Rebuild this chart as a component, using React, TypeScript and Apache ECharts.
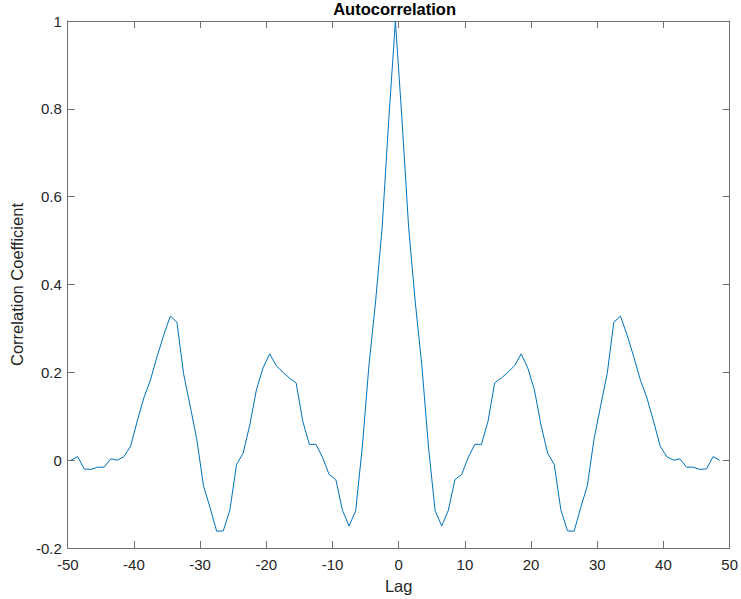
import React, { useEffect, useRef } from "react";
import * as echarts from "echarts";

// Lags run from -49.5 in steps of 1 (99 samples)
const firstLag = -49.5;
const lagStep = 1;

// Autocorrelation values, lag -49.5 .. -0.5
const corrLeft = [
  0.0, 0.008, -0.02, -0.021, -0.016, -0.016, 0.003, 0.0, 0.008, 0.032,
  0.089, 0.142, 0.183, 0.236, 0.285, 0.328, 0.314, 0.197, 0.123, 0.047,
  -0.058, -0.108, -0.162, -0.161, -0.113, -0.01, 0.016, 0.08, 0.16, 0.21,
  0.242, 0.215, 0.2, 0.187, 0.176, 0.089, 0.036, 0.036, 0.006, -0.033,
  -0.044, -0.114, -0.15, -0.115, 0.03, 0.215, 0.36, 0.53, 0.775, 1.0,
];

// Autocorrelation values, lag 0.5 .. 48.5
const corrRight = [
  0.775, 0.53, 0.36, 0.215, 0.03, -0.115, -0.15, -0.114, -0.044, -0.033,
  0.006, 0.036, 0.036, 0.089, 0.176, 0.187, 0.2, 0.215, 0.242, 0.21,
  0.16, 0.08, 0.016, -0.01, -0.113, -0.161, -0.162, -0.108, -0.058, 0.047,
  0.123, 0.197, 0.314, 0.328, 0.285, 0.236, 0.183, 0.142, 0.089, 0.032,
  0.008, 0.0, 0.003, -0.016, -0.016, -0.021, -0.02, 0.008, 0.0,
];

const xRange = { min: -50, max: 50, interval: 10 };
const yRange = { min: -0.2, max: 1, interval: 0.2 };

const titleText = "Autocorrelation";
const xLabel = "Lag";
const yLabel = "Correlation Coefficient";

const FONT = '"Liberation Sans", Arial, Helvetica, sans-serif';

export default function App() {
  const ref = useRef<HTMLDivElement>(null);

  useEffect(() => {
    if (!ref.current) return;
    const chart = echarts.init(ref.current, undefined, { renderer: "svg" });
    const values = [...corrLeft, ...corrRight];
    const data = values.map((v, i) => [firstLag + i * lagStep, v]);

    const axisLine = { show: true, onZero: false, lineStyle: { color: "#707070", width: 1 } };
    const axisTick = { show: true, inside: true, length: 7, lineStyle: { color: "#707070", width: 1 } };
    const labelStyle = { color: "#262626", fontSize: 15, fontFamily: FONT };

    chart.setOption({
      animation: false,
      backgroundColor: "#ffffff",
      title: {
        text: titleText,
        left: 394.6,
        top: 0,
        padding: 0,
        textAlign: "center",
        textStyle: { fontSize: 16.5, fontWeight: "bold", color: "#000", fontFamily: FONT },
      },
      grid: { left: 57, right: 9, top: 21, bottom: 48, containLabel: false },
      xAxis: [
        {
          type: "value",
          min: xRange.min,
          max: xRange.max,
          interval: xRange.interval,
          position: "bottom",
          axisLine,
          axisTick,
          splitLine: { show: false },
          axisLabel: { ...labelStyle, margin: 9 },
          name: xLabel,
          nameLocation: "middle",
          nameGap: 29,
          nameTextStyle: { color: "#262626", fontSize: 16.5, fontFamily: FONT },
        },
        {
          type: "value",
          min: xRange.min,
          max: xRange.max,
          interval: xRange.interval,
          position: "top",
          axisLine,
          axisTick,
          splitLine: { show: false },
          axisLabel: { show: false },
        },
      ],
      yAxis: [
        {
          type: "value",
          min: yRange.min,
          max: yRange.max,
          interval: yRange.interval,
          position: "left",
          axisLine,
          axisTick,
          splitLine: { show: false },
          axisLabel: { ...labelStyle, margin: 6 },
          name: yLabel,
          nameLocation: "middle",
          nameGap: 42,
          nameTextStyle: { color: "#262626", fontSize: 16.5, fontFamily: FONT },
        },
        {
          type: "value",
          min: yRange.min,
          max: yRange.max,
          interval: yRange.interval,
          position: "right",
          axisLine,
          axisTick,
          splitLine: { show: false },
          axisLabel: { show: false },
        },
      ],
      series: [
        {
          type: "line",
          data,
          xAxisIndex: 0,
          yAxisIndex: 0,
          showSymbol: false,
          symbol: "none",
          lineStyle: { color: "#0072BD", width: 1 },
          itemStyle: { color: "#0072BD" },
        },
      ],
    });

    return () => chart.dispose();
  }, []);

  return (
    <div
      ref={ref}
      style={{ position: "fixed", left: 0, top: 0, width: 741, height: 599, background: "#fff" }}
    />
  );
}
